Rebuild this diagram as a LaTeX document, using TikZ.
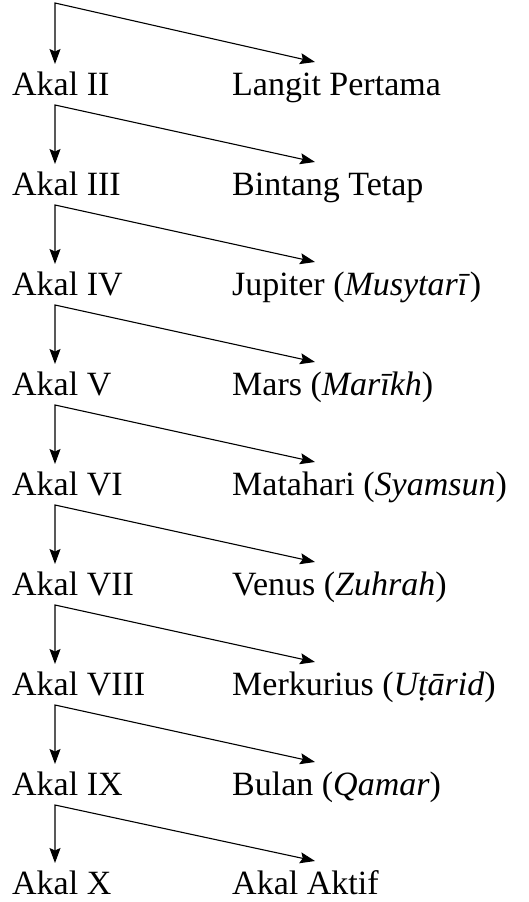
\documentclass[tikz,border=0pt]{standalone}
\usepackage{fontspec}
\setmainfont{Liberation Serif}
\usetikzlibrary{arrows.meta,calc}
\begin{document}
\begin{tikzpicture}[x=1pt,y=1pt]
\tikzstyle{akal}=[anchor=base west,inner sep=0pt,font=\fontsize{34}{40}\selectfont]
\tikzstyle{fork}=[<->,>={Stealth[length=15pt,width=11pt,inset=2.5pt]},line width=1.1pt]

\useasboundingbox (0,0) rectangle (529,-902);

\coordinate (top) at (55,-3);

\node[akal] (akal2) at (12,-95) {Akal II};
\node[akal] (akal3) at (12,-195) {Akal III};
\node[akal] (akal4) at (12,-295) {Akal IV};
\node[akal] (akal5) at (12,-395) {Akal V};
\node[akal] (akal6) at (12,-495) {Akal VI};
\node[akal] (akal7) at (12,-595) {Akal VII};
\node[akal] (akal8) at (12,-695) {Akal VIII};
\node[akal] (akal9) at (12,-795) {Akal IX};
\node[akal] (akal10) at (12,-894) {Akal X};

\node[akal] (langit) at (232,-95) {Langit Pertama};
\node[akal] (bintang) at (232,-195) {Bintang Tetap};
\node[akal] (jupiter) at (232,-295) {Jupiter (\textit{Musytarī})};
\node[akal] (mars) at (232,-395) {Mars (\textit{Marīkh})};
\node[akal] (matahari) at (232,-495) {Matahari (\textit{Syamsun})};
\node[akal] (venus) at (232,-595) {Venus (\textit{Zuhrah})};
\node[akal] (merkurius) at (232,-695) {Merkurius (\textit{Uṭārid})};
\node[akal] (bulan) at (232,-795) {Bulan (\textit{Qamar})};
\node[akal] (aktif) at (232,-894) {Akal Aktif};

\draw[fork] ($(akal2.base west)+(43,31)$) -- (top) -- ($(langit.base west)+(83,33)$);
\draw[fork] ($(akal3.base west)+(43,31)$) -- ($(akal2.base west)+(43,-10)$) -- ($(bintang.base west)+(83,33)$);
\draw[fork] ($(akal4.base west)+(43,31)$) -- ($(akal3.base west)+(43,-10)$) -- ($(jupiter.base west)+(83,33)$);
\draw[fork] ($(akal5.base west)+(43,31)$) -- ($(akal4.base west)+(43,-10)$) -- ($(mars.base west)+(83,33)$);
\draw[fork] ($(akal6.base west)+(43,31)$) -- ($(akal5.base west)+(43,-10)$) -- ($(matahari.base west)+(83,33)$);
\draw[fork] ($(akal7.base west)+(43,31)$) -- ($(akal6.base west)+(43,-10)$) -- ($(venus.base west)+(83,33)$);
\draw[fork] ($(akal8.base west)+(43,31)$) -- ($(akal7.base west)+(43,-10)$) -- ($(merkurius.base west)+(83,33)$);
\draw[fork] ($(akal9.base west)+(43,31)$) -- ($(akal8.base west)+(43,-10)$) -- ($(bulan.base west)+(83,33)$);
\draw[fork] ($(akal10.base west)+(43,31)$) -- ($(akal9.base west)+(43,-10)$) -- ($(aktif.base west)+(83,33)$);

\end{tikzpicture}
\end{document}
